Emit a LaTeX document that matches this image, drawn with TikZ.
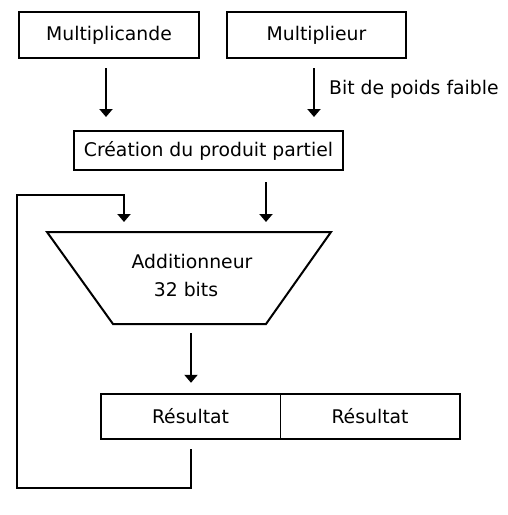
\documentclass[tikz,border=0pt]{standalone}
\usepackage{fontspec}
\setmainfont{DejaVu Sans}
\usetikzlibrary{arrows.meta,calc}
\begin{document}
\begin{tikzpicture}[x=1pt,y=-1pt,
  every node/.style={font=\fontsize{18.8}{22}\selectfont, inner sep=0pt},
  box/.style={draw, line width=2pt, minimum height=46pt},
  lbl/.style={draw=none},
  arr/.style={line width=2pt, -{Triangle[width=13pt,length=8pt]}},
  wire/.style={line width=2pt}
]
\useasboundingbox (0,0) rectangle (508,515);
% boxes
\node[box, minimum width=180pt] (mcand) at (109,35) {Multiplicande};
\node[box, minimum width=179pt] (mplier) at (316.5,35) {Multiplieur};
\node[box, minimum width=269pt, minimum height=39pt] (crea) at (208.5,150.5) {Création du produit partiel};
\node[anchor=west] (bit) at (329,89) {Bit de poids faible};
% adder trapezium
\coordinate (tl) at (47,232);
\coordinate (tr) at (331,232);
\coordinate (br) at (266,324);
\coordinate (bl) at (113,324);
\draw[wire, line join=miter] (tl) -- (tr) -- (br) -- (bl) -- cycle;
\node (add1) at (192,261) {Additionneur};
\node (add2) at (186,289) {32 bits};
% result register
\node[lbl, minimum width=179pt, minimum height=45pt] (res1) at (190.5,416.5) {Résultat};
\node[lbl, minimum width=180pt, minimum height=45pt] (res2) at (370,416.5) {Résultat};
\draw[wire] (res1.north west) rectangle (res2.south east);
\draw[line width=0.8pt] (res1.north east) -- (res1.south east);
% x positions of connectors
\coordinate (xa) at (106,0);
\coordinate (xb) at (314,0);
\coordinate (xc) at (266,0);
\coordinate (xd) at (191,0);
\coordinate (xe) at (124,0);
% arrows
\draw[arr, shorten <=9pt, shorten >=13pt] (mcand.south -| xa) -- (crea.north -| xa);
\draw[arr, shorten <=9pt, shorten >=13pt] (mplier.south -| xb) -- (crea.north -| xb);
\draw[arr, shorten <=11pt, shorten >=10pt] (crea.south -| xc) -- (tl -| xc);
\draw[arr, shorten <=9pt, shorten >=11pt] (bl -| xd) -- (res1.north -| xd);
% feedback loop
\coordinate (f1) at (191,449);
\coordinate (f2) at (191,488);
\coordinate (f3) at (17,488);
\coordinate (f4) at (17,195);
\coordinate (f5) at (124,195);
\draw[arr, line join=miter, shorten >=10pt] (f1) -- (f2) -- (f3) -- (f4) -- (f5) -- (tl -| xe);
\end{tikzpicture}
\end{document}
